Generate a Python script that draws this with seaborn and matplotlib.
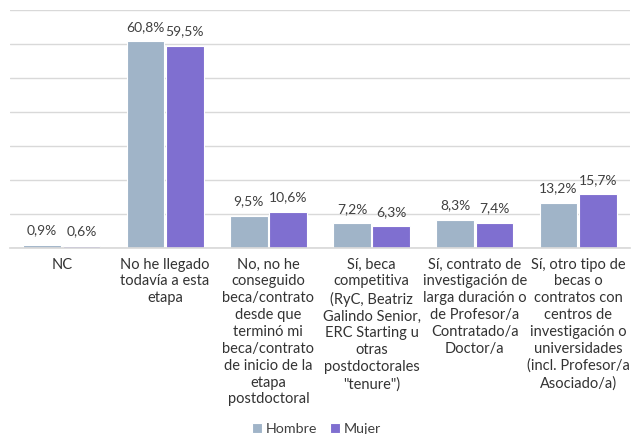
import pandas as pd
import seaborn as sns
import matplotlib.pyplot as plt

categorias = [
    "NC",
    "No he llegado\ntodavía a esta\netapa",
    "No, no he\nconseguido\nbeca/contrato\ndesde que\nterminó mi\nbeca/contrato\nde inicio de la\netapa\npostdoctoral",
    "Sí, beca\ncompetitiva\n(RyC, Beatriz\nGalindo Senior,\nERC Starting u\notras\npostdoctorales\n\"tenure\")",
    "Sí, contrato de\ninvestigación de\nlarga duración o\nde Profesor/a\nContratado/a\nDoctor/a",
    "Sí, otro tipo de\nbecas o\ncontratos con\ncentros de\ninvestigación o\nuniversidades\n(incl. Profesor/a\nAsociado/a)",
]
hombre = [0.9, 60.8, 9.5, 7.2, 8.3, 13.2]
mujer = [0.6, 59.5, 10.6, 6.3, 7.4, 15.7]
series = ["Hombre", "Mujer"]
colores = ["#A0B4C8", "#7F6FD0"]

df = pd.DataFrame({
    "categoria": categorias * 2,
    "sexo": ["Hombre"] * len(categorias) + ["Mujer"] * len(categorias),
    "valor": hombre + mujer,
})

sns.set_theme(style="white")
plt.rcParams["font.family"] = ["Lato", "DejaVu Sans"]
plt.rcParams["text.color"] = "#404040"

fig = plt.figure(figsize=(6.33, 4.34), dpi=100)
ax = fig.add_axes([0.016, 0.429, 0.979, 0.548])

sns.barplot(
    data=df, x="categoria", y="valor", hue="sexo",
    hue_order=series, palette=colores, width=0.76, gap=0.04,
    edgecolor="white", linewidth=0.8, saturation=1, ax=ax,
)

for cont in ax.containers:
    ax.bar_label(cont, labels=[f"{v:.1f}%".replace(".", ",") for v in cont.datavalues],
                 padding=6, fontsize=10, color="#404040")

ax.set_ylim(0, 70)
ax.set_yticks(range(0, 71, 10))
ax.set_yticklabels([])
ax.yaxis.grid(True, color="#D9D9D9", linewidth=1)
ax.set_axisbelow(True)
for s in ["left", "right", "top"]:
    ax.spines[s].set_visible(False)
ax.spines["bottom"].set_color("#D9D9D9")
ax.tick_params(axis="x", length=0, pad=7, labelsize=10.5, labelcolor="#333333")
ax.tick_params(axis="y", length=0)
for t in ax.get_xticklabels():
    t.set_linespacing(1.26)
ax.set_xlabel("")
ax.set_ylabel("")

ax.legend(loc="lower center", bbox_to_anchor=(0.5, -0.016), bbox_transform=fig.transFigure,
          ncol=2, frameon=False, fontsize=10.3, handlelength=0.7, handleheight=0.7,
          handletextpad=0.25, columnspacing=0.9, borderaxespad=0.0)

fig.savefig("out.png", dpi=100)
